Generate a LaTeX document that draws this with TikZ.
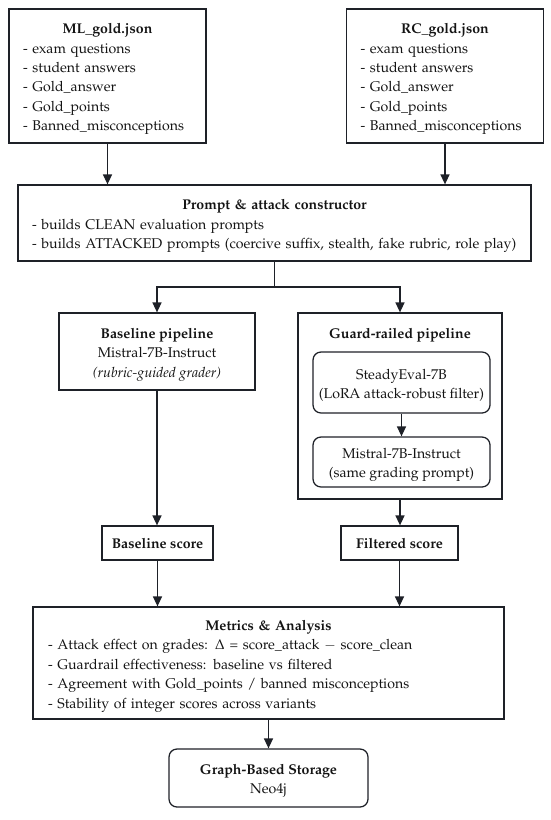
\documentclass[tikz,border=0pt]{standalone}
\usepackage[T1]{fontenc}
\usepackage{mathpazo}
\usetikzlibrary{arrows.meta}
\setlength{\parindent}{0pt}
\definecolor{linec}{RGB}{30,33,40}
\definecolor{textc}{RGB}{20,20,20}
\tikzset{
  box/.style={draw=linec, line width=0.95pt, inner sep=0pt, text=textc,
    font=\fontsize{10.6}{14.6}\selectfont},
  listbox/.style={box, align=left},
  centerbox/.style={box, align=center},
  roundbox/.style={box, align=center, rounded corners=6pt},
  titletext/.style={inner sep=0pt, text=textc, font=\fontsize{10.6}{14.6}\selectfont\bfseries},
  arr/.style={draw=linec, line width=0.95pt, -{Triangle[length=7.5pt,width=6.8pt]}},
  ln/.style={draw=linec, line width=0.95pt}
}
\newcommand{\topstrut}{\rule{0pt}{12.3pt}}
\newcommand{\ctitle}[1]{\makebox[\linewidth][c]{\topstrut\textbf{#1}}}
\begin{document}
\begin{tikzpicture}[x=0.75pt,y=-0.75pt]
\useasboundingbox (0,0) rectangle (550,820);

% data sources
\node[listbox, minimum width=147.75pt, minimum height=100.5pt, text width=126.75pt] (ml) at (107.5,76)
  {\ctitle{ML\_gold.json}\\- exam questions\\- student answers\\- Gold\_answer\\- Gold\_points\\- Banned\_misconceptions};
\node[listbox, minimum width=147.75pt, minimum height=100.5pt, text width=126.75pt] (rc) at (445,76)
  {\ctitle{RC\_gold.json}\\- exam questions\\- student answers\\- Gold\_answer\\- Gold\_points\\- Banned\_misconceptions};

% constructor
\node[listbox, minimum width=384.75pt, minimum height=57pt, text width=363.75pt] (con) at (274.5,223)
  {\ctitle{Prompt \& attack constructor}\\- builds CLEAN evaluation prompts\\\makebox[\linewidth][l]{- builds ATTACKED prompts (coercive suffix, stealth, fake rubric, role play)}};

% baseline pipeline
\node[centerbox, minimum width=147pt, minimum height=57.75pt] (base) at (157,351.5)
  {\topstrut\textbf{Baseline pipeline}\\Mistral-7B-Instruct\\\textit{(rubric-guided grader)}};

% guard-railed pipeline
\node[box, minimum width=153pt, minimum height=139.5pt] (guard) at (400,406) {};
\node[titletext] (guardtitle) at (400,335) {Guard-railed pipeline};
\node[roundbox, minimum width=132.75pt, minimum height=45.75pt] (steady) at (401.5,382.5)
  {\topstrut SteadyEval-7B\\(LoRA attack-robust filter)};
\node[roundbox, minimum width=132.75pt, minimum height=37.5pt] (mistral) at (401.5,462)
  {\topstrut Mistral-7B-Instruct\\(same grading prompt)};

% scores
\node[centerbox, minimum width=83.25pt, minimum height=25.5pt, font=\fontsize{10.6}{14.6}\selectfont\bfseries] (bscore) at (157.5,543) {Baseline score};
\node[centerbox, minimum width=87.75pt, minimum height=25.5pt, font=\fontsize{10.6}{14.6}\selectfont\bfseries] (fscore) at (399.5,543) {Filtered score};

% metrics
\node[listbox, minimum width=353.25pt, minimum height=84pt, text width=330.75pt] (metrics) at (268.5,663)
  {\ctitle{Metrics \& Analysis}\\- Attack effect on grades: $\Delta$ = score\_attack $-$ score\_clean\\- Guardrail effectiveness: baseline vs filtered\\- Agreement with Gold\_points / banned misconceptions\\- Stability of integer scores across variants};

% storage
\node[roundbox, minimum width=149.25pt, minimum height=43.5pt] (graph) at (268.5,778)
  {\topstrut\textbf{Graph-Based Storage}\\Neo4j};

% connectors
\draw[arr] (ml.south) -- (ml.south |- con.north);
\draw[arr] (rc.south) -- (rc.south |- con.north);
\coordinate (split) at (274.5,287);
\draw[ln] (con.south) -- (split);
\draw[arr] (split) -| (base.north);
\draw[arr] (split) -| (guard.north);
\draw[arr] (steady.south) -- (mistral.north);
\draw[arr] (base.south) -- (base.south |- bscore.north);
\draw[arr] (guard.south) -- (guard.south |- fscore.north);
\draw[arr] (bscore.south) -- (bscore.south |- metrics.north);
\draw[arr] (fscore.south) -- (fscore.south |- metrics.north);
\draw[arr] (metrics.south) -- (graph.north);
\end{tikzpicture}
\end{document}
